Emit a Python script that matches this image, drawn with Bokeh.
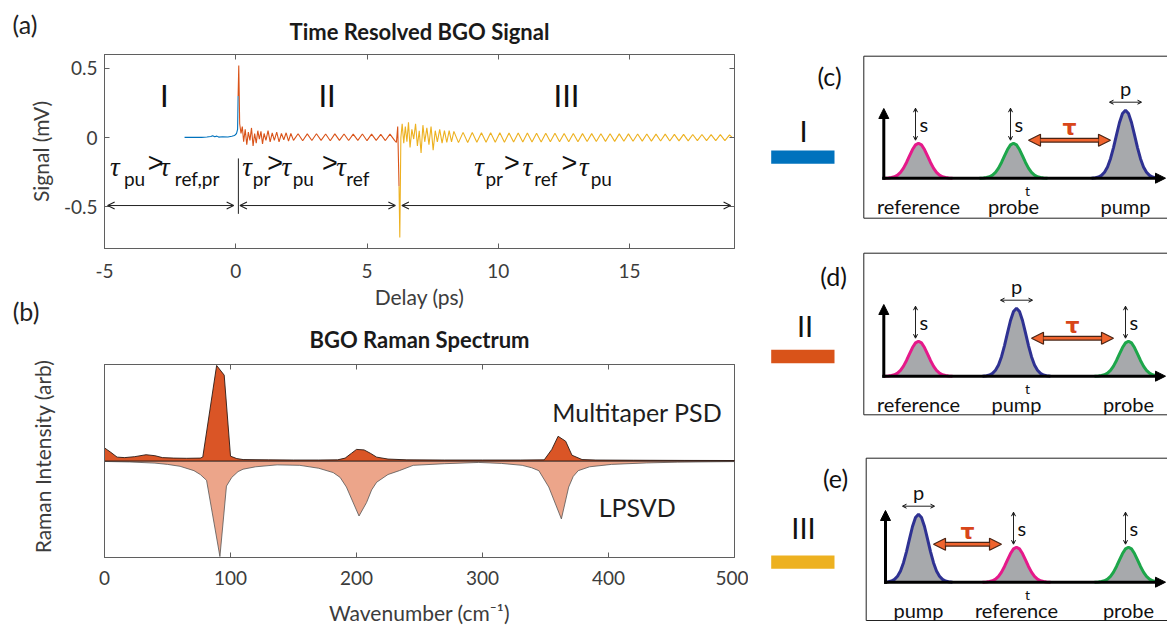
import numpy as np
from bokeh.plotting import figure
from bokeh.models import (Range1d, FixedTicker, LinearAxis, Arrow, OpenHead,
                          NormalHead, CustomJSTickFormatter)
from bokeh.layouts import row, column
from bokeh.embed import file_html
from bokeh.resources import INLINE
from bokeh.core.properties import value

FONT = "Lato"
TXT = "#3c3c3c"
AXC = "#5f5f5f"
BLUE, ORANGE, YELLOW = "#0072BD", "#D95319", "#EDB120"
HALF = 0.175  # half period of the regular oscillation (ps)

# ------------------------------------------------------------------ (a) data
T_I = [-1.95, -1.6, -1.3, -1.1, -0.95, -0.88, -0.8, -0.72, -0.65, -0.5, -0.3, -0.15, -0.05, 0.03, 0.07, 0.09]
V_I = [0.002, 0.003, 0.002, 0.005, 0.008, 0.014, 0.006, 0.011, 0.004, 0.006, 0.005, 0.01, 0.015, 0.03, 0.06, 0.3]

T_II_NOISY = [0.09, 0.115, 0.15, 0.2, 0.25, 0.3, 0.36, 0.42, 0.48, 0.54, 0.6, 0.66, 0.72, 0.78, 0.84, 0.9,
              0.96, 1.02, 1.08, 1.15, 1.23, 1.31, 1.39, 1.47, 1.56, 1.65, 1.74, 1.83, 1.92, 2.01, 2.1, 2.2]
V_II_NOISY = [0.3, 0.52, 0.1, 0.03, 0.08, -0.03, 0.06, -0.05, 0.04, -0.02, 0.07, -0.06, 0.03, -0.04, 0.05, -0.01,
              0.045, -0.045, 0.03, -0.02, 0.05, -0.03, 0.035, -0.02, 0.04, -0.03, 0.03, -0.015, 0.035, -0.025, 0.03, -0.02]
T_II_REG_START = 2.375
V_II_REG = [0.028, -0.022, 0.027, -0.021, 0.028, -0.02, 0.026, -0.022, 0.027, -0.02, 0.026,
            -0.021, 0.025, -0.02, 0.026, -0.022, 0.025, -0.02, 0.024, -0.021, 0.025, -0.02]
T_II_TAIL = [6.12, 6.17, 6.22]
V_II_TAIL = [-0.035, 0.08, -0.35]

T_III_NOISY = [6.22, 6.25, 6.29, 6.34, 6.4, 6.46, 6.52, 6.58, 6.64, 6.71, 6.78, 6.85, 6.92, 6.99, 7.06,
               7.13, 7.2, 7.28, 7.36, 7.44, 7.52, 7.6, 7.68, 7.77, 7.86, 7.95, 8.04, 8.13, 8.22, 8.31]
V_III_NOISY = [-0.35, -0.72, 0.0, 0.1, -0.04, 0.08, -0.03, 0.11, -0.07, 0.06, -0.01, 0.1, -0.06, 0.05, -0.11,
               0.09, -0.03, 0.07, -0.05, 0.08, -0.09, 0.05, -0.03, 0.06, -0.04, 0.05, -0.035, 0.05, -0.03, 0.045]
T_III_REG_START = 8.485
V_III_REG = [-0.036, 0.038, -0.035, 0.037, -0.034, 0.036, -0.034, 0.035, -0.033, 0.035,
             -0.033, 0.034, -0.032, 0.033, -0.032, 0.033, -0.031, 0.032, -0.031, 0.031,
             -0.030, 0.031, -0.030, 0.030, -0.029, 0.030, -0.029, 0.029, -0.028, 0.029,
             -0.028, 0.028, -0.027, 0.028, -0.027, 0.027, -0.026, 0.027, -0.026, 0.026,
             -0.025, 0.026, -0.025, 0.025, -0.024, 0.025, -0.024, 0.024, -0.023, 0.024,
             -0.023, 0.023, -0.022, 0.023, -0.022, 0.022, -0.021, 0.022, -0.021, 0.020]
T_III_END = [18.9]
V_III_END = [0.004]

X_TICKS_A = [-5, 0, 5, 10, 15]
Y_TICKS_A = [-0.5, 0, 0.5]
REGION_NAMES = ["I", "II", "III"]
REGION_X = [-2.72, 3.48, 12.6]
REGION_Y = [0.307, 0.307, 0.307]

TAU_X = [[-4.79, -4.26, -3.38, -2.89, -2.32],
         [0.25, 0.65, 1.17, 1.74, 2.17, 3.26, 3.83, 4.21],
         [9.09, 9.51, 10.19, 10.92, 11.37, 12.38, 13.08, 13.52]]
TAU_TXT = [["τ", "pu", ">", "τ", "ref,pr"],
           ["τ", "pr", ">", "τ", "pu", ">", "τ", "ref"],
           ["τ", "pr", ">", "τ", "ref", ">", "τ", "pu"]]
SPAN_START = [-4.88, 0.16, 6.33]
SPAN_END = [-0.08, 6.08, 18.85]
SPAN_Y = -0.49
SEP_X = 0.1

# ------------------------------------------------------------------ (b) data
PSD_WN = [0, 5, 10, 16, 24, 33, 40, 46, 55, 65, 76, 78, 89, 95, 100, 105, 110, 130, 150, 170, 185, 191,
          196, 200, 206, 211, 216, 225, 240, 270, 300, 330, 349, 355, 360, 366, 371, 379, 390, 420, 460, 500]
PSD = [0.136, 0.09, 0.04, 0.035, 0.045, 0.065, 0.055, 0.035, 0.03, 0.028, 0.03, 0.04, 0.99, 0.89, 0.05,
       0.025, 0.015, 0.012, 0.01, 0.01, 0.012, 0.03, 0.08, 0.12, 0.115, 0.08, 0.04, 0.02, 0.012, 0.01,
       0.01, 0.01, 0.012, 0.12, 0.256, 0.205, 0.06, 0.015, 0.01, 0.008, 0.006, 0.005]
LP_WN = [0, 20, 40, 50, 60, 71, 76, 81, 91.6, 96.8, 101, 106, 110, 120, 137, 155, 170, 181.5, 187, 192,
         202, 208, 212, 216, 225, 234, 245, 270, 297, 315, 331.5, 339, 344.7, 352.6, 362.6, 368.4, 372,
         376, 385, 402.5, 430, 455, 500]
LP = [-0.005, -0.01, -0.022, -0.035, -0.055, -0.1, -0.14, -0.2, -0.99, -0.26, -0.17, -0.11, -0.085,
      -0.06, -0.04, -0.045, -0.075, -0.12, -0.17, -0.27, -0.57, -0.43, -0.3, -0.22, -0.14, -0.1, -0.045,
      -0.028, -0.015, -0.025, -0.045, -0.07, -0.1, -0.27, -0.6, -0.27, -0.16, -0.1, -0.06, -0.035,
      -0.02, -0.012, -0.006]
X_TICKS_B = [0, 100, 200, 300, 400, 500]

# ------------------------------------------------------------------ left margin texts (picture pixels)
PANEL_LETTERS = ["(a)", "(b)"]
PANEL_LETTER_X = [24.5, 25.5]
PANEL_LETTER_Y = [23, 310]
YLABELS = ["Signal (mV)", "Raman Intensity (arb)"]
YLABEL_X = [40, 42]
YLABEL_Y = [151, 456]

# ------------------------------------------------------------------ (c-e) schematic data
BOX_LABEL = ["(c)", "(d)", "(e)"]
BOX_LEFT = [115.3, 115.3, 117.7]
BOX_TOP = [47.7, 244.7, 449.7]
BOX_BOTTOM = [209.7, 406.3, 612.0]
AX_X = [135.3, 135.3, 137.0]
AX_Y = [169.7, 367.7, 573.7]
AX_TOP = [100.0, 296.0, 502.0]
LETTER_XY = [(81, 67.5), (85, 267), (87, 469.5)]
ROMAN_XY = [(55, 122), (56.5, 317), (55, 519)]
BAR_TOP = [142.0, 341.3, 547.0]
BAR_BOT = [155.3, 354.7, 560.3]
BAR_COLORS = [BLUE, ORANGE, YELLOW]
PULSE_NAMES = [["reference", "probe", "pump"], ["reference", "pump", "probe"], ["pump", "reference", "probe"]]
PULSE_X = [[170, 265, 377], [170, 268, 380], [170, 268, 380]]
TAU_PAIR = [(1, 2), (1, 2), (0, 1)]
PULSE_COLOR = {"reference": "#E5198A", "probe": "#1DA64A", "pump": "#2E3192"}
PULSE_H = {"reference": 35, "probe": 35, "pump": 68}
PULSE_DX = [-34, -30, -27, -24, -21, -18, -15, -12, -9, -6, -3, 0, 3, 6, 9, 12, 15, 18, 21, 24, 27, 30, 34]
PULSE_SHAPE = [0, 0.007, 0.018, 0.041, 0.087, 0.166, 0.287, 0.45, 0.638, 0.819, 0.951, 1.0,
               0.951, 0.819, 0.638, 0.45, 0.287, 0.166, 0.087, 0.041, 0.018, 0.007, 0]

empty_fmt = CustomJSTickFormatter(code="return ''")
LEFT_W = 56          # width of the narrow strip holding "(a)", "(b)" and the y labels
PANEL_W = 748 - LEFT_W


def style_axis(ax, size="19px"):
    ax.major_tick_in = 5
    ax.major_tick_out = 0
    ax.minor_tick_line_color = None
    ax.axis_line_color = AXC
    ax.major_tick_line_color = AXC
    ax.major_label_text_font = FONT
    ax.major_label_text_font_size = size
    ax.major_label_text_color = TXT
    ax.axis_label_text_font = FONT
    ax.axis_label_text_font_size = "21px"
    ax.axis_label_text_font_style = "normal"
    ax.axis_label_text_color = TXT


def title_axis(ticks, title, standoff):
    ax = LinearAxis(ticker=FixedTicker(ticks=ticks), formatter=empty_fmt)
    style_axis(ax, size="2px")
    ax.major_label_standoff = 0
    ax.axis_label = title
    ax.axis_label_text_font_style = "bold"
    ax.axis_label_text_font_size = "22px"
    ax.axis_label_text_color = "#1a1a1a"
    ax.axis_label_standoff = standoff
    return ax


# ================================================================== left strip
pl = figure(width=LEFT_W, height=632, x_range=Range1d(0, LEFT_W), y_range=Range1d(632, 0),
            x_axis_type=None, y_axis_type=None, output_backend="svg", toolbar_location=None,
            title=None, min_border=0)
pl.outline_line_color = None
pl.text(x=PANEL_LETTER_X, y=PANEL_LETTER_Y, text=PANEL_LETTERS, text_font=value(FONT),
        text_font_size="25px", text_color="#222222", text_align="center", text_baseline="middle")
pl.text(x=YLABEL_X, y=YLABEL_Y, text=YLABELS, angle=np.pi / 2, text_font=value(FONT),
        text_font_size="21px", text_color=TXT, text_align="center", text_baseline="middle")

# ================================================================== panel (a)
pa = figure(width=PANEL_W, height=322, x_range=Range1d(-5, 19), y_range=Range1d(-0.8, 0.6),
            output_backend="svg", toolbar_location=None, title=None,
            min_border_left=104 - LEFT_W, min_border_right=14, min_border_top=54, min_border_bottom=74)
pa.grid.visible = False
pa.outline_line_color = AXC
pa.xaxis.ticker = FixedTicker(ticks=X_TICKS_A)
pa.yaxis.ticker = FixedTicker(ticks=Y_TICKS_A)
pa.xaxis.major_label_overrides = {t: str(t) for t in X_TICKS_A}
pa.yaxis.major_label_overrides = {-0.5: "-0.5", 0: "0", 0.5: "0.5"}
style_axis(pa.xaxis[0]); style_axis(pa.yaxis[0])
pa.xaxis.axis_label = "Delay (ps)"
pa.xaxis.major_label_standoff = 15
pa.xaxis.axis_label_standoff = 3
pa.yaxis.major_label_standoff = 7
pa.add_layout(title_axis(X_TICKS_A, "Time Resolved BGO Signal", 10), "above")
right_a = LinearAxis(ticker=FixedTicker(ticks=Y_TICKS_A), formatter=empty_fmt)
style_axis(right_a, size="2px")
pa.add_layout(right_a, "right")

t2 = T_II_NOISY + list(T_II_REG_START + HALF * np.arange(len(V_II_REG))) + T_II_TAIL
v2 = V_II_NOISY + V_II_REG + V_II_TAIL
t3 = T_III_NOISY + list(T_III_REG_START + HALF * np.arange(len(V_III_REG))) + T_III_END
v3 = V_III_NOISY + V_III_REG + V_III_END
pa.line(T_I, V_I, line_color=BLUE, line_width=1.1)
pa.line(t2, v2, line_color=ORANGE, line_width=1.1)
pa.line(t3, v3, line_color=YELLOW, line_width=1.1)

pa.text(x=REGION_X, y=REGION_Y, text=REGION_NAMES, text_font=value(FONT), text_font_size="31px",
        text_color="#111111", text_align="center", text_baseline="middle")

for xs, ts in zip(TAU_X, TAU_TXT):
    for x, t in zip(xs, ts):
        if t == "τ":
            pa.text(x=[x], y=[-0.21], text=[t], text_font=value("Liberation Serif"),
                    text_font_style="italic", text_font_size="27px", text_color="#111111",
                    text_align="left", text_baseline="middle")
        elif t == ">":
            pa.text(x=[x + 0.03], y=[-0.18], text=[t], text_font=value("Liberation Sans"),
                    text_font_size="27px", text_color="#111111", text_align="left",
                    text_baseline="middle")
        else:
            pa.text(x=[x], y=[-0.294], text=[t], text_font=value(FONT), text_font_size="19px",
                    text_color="#111111", text_align="left", text_baseline="middle")

for xs, xe in zip(SPAN_START, SPAN_END):
    pa.add_layout(Arrow(start=OpenHead(size=7, line_width=1.2, line_color="#222222"),
                        end=OpenHead(size=7, line_width=1.2, line_color="#222222"),
                        x_start=xs, y_start=SPAN_Y, x_end=xe, y_end=SPAN_Y,
                        line_width=1, line_color="#222222"))
pa.segment(x0=[SEP_X], y0=[-0.15], x1=[SEP_X], y1=[-0.55], line_color="#222222", line_width=1)

# ================================================================== panel (b)
pb = figure(width=PANEL_W, height=310, x_range=Range1d(0, 500), y_range=Range1d(-1, 1),
            output_backend="svg", toolbar_location=None, title=None,
            min_border_left=104 - LEFT_W, min_border_right=14, min_border_top=40, min_border_bottom=75)
pb.grid.visible = False
pb.outline_line_color = AXC
pb.xaxis.ticker = FixedTicker(ticks=X_TICKS_B)
pb.xaxis.major_label_overrides = {t: str(t) for t in X_TICKS_B}
style_axis(pb.xaxis[0]); style_axis(pb.yaxis[0])
pb.yaxis.formatter = empty_fmt
pb.yaxis.major_label_text_font_size = "2px"
pb.yaxis.major_tick_in = 0
pb.yaxis.major_tick_line_color = None
pb.xaxis.axis_label = "Wavenumber (cm⁻¹)"
pb.xaxis.major_label_standoff = 13
pb.xaxis.axis_label_standoff = 12
pb.add_layout(title_axis(X_TICKS_B, "BGO Raman Spectrum", 12), "above")

pb.patch(x=LP_WN + [500, 0], y=LP + [0, 0], fill_color="#ECA58A", line_color="#555555", line_width=0.8)
pb.patch(x=PSD_WN + [500, 0], y=PSD + [0, 0], fill_color="#DA5526", line_color="#2a1a14", line_width=0.9)
pb.text(x=[422.8, 422.8], y=[0.51, -0.48], text=["Multitaper PSD", "LPSVD"], text_font=value(FONT),
        text_font_size="25px", text_color="#1e1e1e", text_align="center", text_baseline="middle")

# ================================================================== panels (c)-(e)
pc = figure(width=419, height=632, x_range=Range1d(0, 419), y_range=Range1d(624, -8),
            x_axis_type=None, y_axis_type=None, output_backend="svg", toolbar_location=None,
            title=None, min_border=0)
pc.outline_line_color = None

pc.quad(left=BOX_LEFT, right=[440] * 3, top=BOX_TOP, bottom=BOX_BOTTOM,
        fill_color=None, line_color="#222222", line_width=1)
pc.quad(left=[22.7] * 3, right=[86] * 3, top=BAR_TOP, bottom=BAR_BOT,
        fill_color=BAR_COLORS, line_color=None)
pc.text(x=[xy[0] for xy in LETTER_XY], y=[xy[1] for xy in LETTER_XY], text=BOX_LABEL,
        text_font=value(FONT), text_font_size="25px", text_color="#111111",
        text_align="center", text_baseline="middle")
pc.text(x=[xy[0] for xy in ROMAN_XY], y=[xy[1] for xy in ROMAN_XY], text=REGION_NAMES,
        text_font=value(FONT), text_font_size="29px", text_color="#111111",
        text_align="center", text_baseline="middle")

for b in range(3):
    y0 = AX_Y[b]
    names = PULSE_NAMES[b]
    xs = PULSE_X[b]
    for name, cx in zip(names, xs):
        h = PULSE_H[name]
        px = [cx + d for d in PULSE_DX]
        py = [y0 - h * s for s in PULSE_SHAPE]
        pc.patch(x=px, y=py, fill_color="#A7A9AC", line_color=None)
        pc.line(x=px, y=py, line_color=PULSE_COLOR[name], line_width=3)
        peak = y0 - h
        if name == "pump":
            ya = peak - 8
            pc.add_layout(Arrow(start=OpenHead(size=4, line_width=1), end=OpenHead(size=4, line_width=1),
                                x_start=cx - 16, y_start=ya, x_end=cx + 16, y_end=ya,
                                line_width=1, line_color="#222222"))
            pc.text(x=[cx], y=[ya - 14], text=["p"], text_font=value(FONT), text_font_size="20px",
                    text_color="#111111", text_align="center", text_baseline="middle")
        else:
            pc.add_layout(Arrow(start=OpenHead(size=4, line_width=1), end=OpenHead(size=4, line_width=1),
                                x_start=cx - 3, y_start=peak - 35, x_end=cx - 3, y_end=peak - 3,
                                line_width=1, line_color="#222222"))
            pc.text(x=[cx + 1], y=[peak - 19], text=["s"], text_font=value(FONT), text_font_size="20px",
                    text_color="#111111", text_align="left", text_baseline="middle")
        pc.text(x=[cx], y=[y0 + 27.5], text=[name], text_font=value(FONT), text_font_size="20px",
                text_color="#111111", text_align="center", text_baseline="middle")
    # axes of the schematic
    pc.add_layout(Arrow(end=NormalHead(size=10, fill_color="black", line_color="black"),
                        x_start=AX_X[b], y_start=y0 + 1.5, x_end=AX_X[b], y_end=AX_TOP[b],
                        line_width=3, line_color="black"))
    pc.add_layout(Arrow(end=NormalHead(size=10, fill_color="black", line_color="black"),
                        x_start=AX_X[b] - 1.5, y_start=y0, x_end=417, y_end=y0,
                        line_width=3, line_color="black"))
    pc.text(x=[279], y=[y0 + 12], text=["t"], text_font=value(FONT), text_font_size="14px",
            text_color="#111111", text_align="center", text_baseline="middle")
    # tau arrow
    a, c = TAU_PAIR[b]
    x0, x1 = xs[a] + 15, xs[c] - 15
    yt = y0 - 38
    pc.segment(x0=[x0 + 7], y0=[yt], x1=[x1 - 7], y1=[yt], line_color="#4a2414", line_width=5)
    pc.add_layout(Arrow(start=NormalHead(size=12, fill_color="#F0642E", line_color="#4a2414", line_width=1.2),
                        end=NormalHead(size=12, fill_color="#F0642E", line_color="#4a2414", line_width=1.2),
                        x_start=x0, y_start=yt, x_end=x1, y_end=yt, line_width=2.5, line_color="#F0642E"))
    pc.text(x=[(x0 + x1) / 2], y=[yt - 13], text=["τ"], text_font=value("DejaVu Sans"),
            text_font_style="bold", text_font_size="22px", text_color="#D8461A",
            text_align="center", text_baseline="middle")

layout = row(pl, column(pa, pb), pc)
open("out.html", "w").write(file_html(layout, INLINE))
